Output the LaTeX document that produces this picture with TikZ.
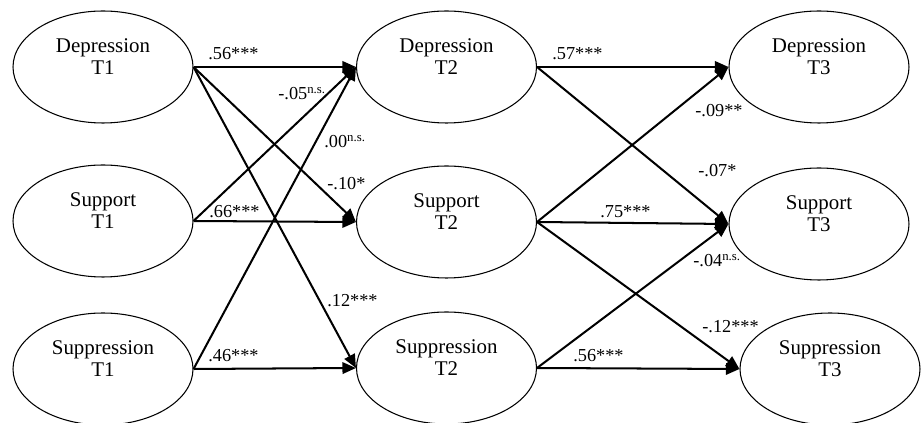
\documentclass[tikz,border=0pt]{standalone}
\usepackage{fontspec}
\setmainfont{Liberation Serif}
\usepackage{tikz}
\usetikzlibrary{shapes}
\usetikzlibrary{arrows.meta}
\tikzset{myEllipse/.style={draw, ellipse, line width=0.6pt, minimum width=3.6cm, minimum height=2.24cm, inner sep=0pt, text depth=0.4cm, align=center, font=\fontsize{11.9}{12.6}\selectfont}}
\tikzset{myPath/.style={line width=1.15pt, -{Triangle[length=0.27cm, width=0.23cm]}}}
\tikzset{myCoef/.style={anchor=base west, inner sep=0pt, font=\fontsize{10.4}{12}\selectfont}}

\begin{document}
\begin{tikzpicture}

\useasboundingbox (0, 0) rectangle (18.44, 8.46);

\node[myEllipse] (dep1) at (2.06, 7.12) {Depression\\T1};
\node[myEllipse] (sup1) at (2.06, 4.04) {Support\\T1};
\node[myEllipse] (supp1) at (2.06, 1.08) {Suppression\\T1};

\node[myEllipse] (dep2) at (8.93, 7.12) {Depression\\T2};
\node[myEllipse] (sup2) at (8.93, 4.02) {Support\\T2};
\node[myEllipse] (supp2) at (8.93, 1.10) {Suppression\\T2};

\node[myEllipse] (dep3) at (16.38, 7.12) {Depression\\T3};
\node[myEllipse] (sup3) at (16.38, 3.98) {Support\\T3};
\node[myEllipse] (supp3) at (16.60, 1.08) {Suppression\\T3};

\draw[myPath] (dep1.east) to (dep2.west);
\draw[myPath] (dep1.east) to (sup2.west);
\draw[myPath] (dep1.east) to (supp2.west);
\draw[myPath] (sup1.east) to (dep2.west);
\draw[myPath] (sup1.east) to (sup2.west);
\draw[myPath] (supp1.east) to (dep2.west);
\draw[myPath] (supp1.east) to (supp2.west);

\draw[myPath] (dep2.east) to (dep3.west);
\draw[myPath] (dep2.east) to (sup3.west);
\draw[myPath] (sup2.east) to (dep3.west);
\draw[myPath] (sup2.east) to (sup3.west);
\draw[myPath] (sup2.east) to (supp3.west);
\draw[myPath] (supp2.east) to (sup3.west);
\draw[myPath] (supp2.east) to (supp3.west);

\node[myCoef] (c1) at (4.16, 7.26) {.56***};
\node[myCoef] (c2) at (5.56, 6.46) {-.05\textsuperscript{n.s.}};
\node[myCoef] (c3) at (6.48, 5.50) {.00\textsuperscript{n.s.}};
\node[myCoef] (c4) at (6.54, 4.66) {-.10*};
\node[myCoef] (c5) at (4.18, 4.10) {.66***};
\node[myCoef] (c6) at (6.54, 2.32) {.12***};
\node[myCoef] (c7) at (4.16, 1.22) {.46***};

\node[myCoef] (c8) at (11.04, 7.26) {.57***};
\node[myCoef] (c9) at (13.90, 6.12) {-.09**};
\node[myCoef] (c10) at (13.96, 4.92) {-.07*};
\node[myCoef] (c11) at (12.00, 4.10) {.75***};
\node[myCoef] (c12) at (13.86, 3.12) {-.04\textsuperscript{n.s.}};
\node[myCoef] (c13) at (14.04, 1.80) {-.12***};
\node[myCoef] (c14) at (11.46, 1.22) {.56***};

\end{tikzpicture}
\end{document}
